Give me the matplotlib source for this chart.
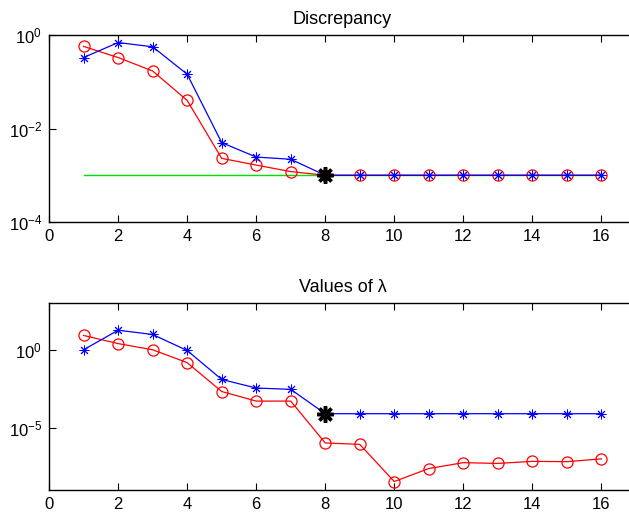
import matplotlib.pyplot as plt
import numpy as np

plt.rcParams['font.family'] = ['Liberation Sans', 'DejaVu Sans']
plt.rcParams['mathtext.fontset'] = 'custom'
plt.rcParams['mathtext.rm'] = 'Liberation Sans'
plt.rcParams['mathtext.it'] = 'Liberation Sans:italic'

# 反復回数
k = np.arange(1, 17)

# 上段: 残差ノルム
disc_star = [0.33, 0.69, 0.56, 0.145, 5.0e-3, 2.45e-3, 2.2e-3, 1e-3,
             1e-3, 1e-3, 1e-3, 1e-3, 1e-3, 1e-3, 1e-3, 1e-3]
disc_circ = [0.57, 0.33, 0.17, 0.04, 2.3e-3, 1.65e-3, 1.2e-3, 1e-3,
             1e-3, 1e-3, 1e-3, 1e-3, 1e-3, 1e-3, 1e-3, 1e-3]
noise_level = 1e-3

# 下段: 正則化パラメータ
lam_star = [1.0, 18, 9.6, 0.9, 0.0125, 3.5e-3, 2.9e-3, 7.9e-5,
            7.9e-5, 7.9e-5, 7.9e-5, 7.9e-5, 7.9e-5, 7.9e-5, 7.9e-5, 7.9e-5]
lam_circ = [8.3, 2.5, 1.0, 0.15, 2.1e-3, 5.1e-4, 5.1e-4, 1.05e-6,
            8.5e-7, 3.5e-9, 2.4e-8, 5.7e-8, 5.1e-8, 6.9e-8, 6.6e-8, 1.0e-7]

# 停止した反復
k_stop = 8

asterisk = (8, 2, 0)

fig = plt.figure(figsize=(6.29, 5.18), dpi=100)
ax1 = fig.add_axes([0.078, 0.5714, 0.933, 0.361])
ax2 = fig.add_axes([0.078, 0.054, 0.933, 0.361])


def style_axis(ax, yticks, ylim):
    ax.set_yscale('log')
    ax.set_xlim(0, 17)
    ax.set_ylim(ylim)
    ax.set_xticks(range(0, 17, 2))
    ax.set_yticks(yticks)
    ax.minorticks_off()
    ax.tick_params(direction='in', top=True, right=False, labelsize=12, length=5, width=0.8, pad=5)
    ax.spines['right'].set_visible(False)
    for s in ax.spines.values():
        s.set_linewidth(1.0)


# 上段
ax1.plot(k, [noise_level] * len(k), color='#00e000', lw=1.0)
ax1.plot(k, disc_circ, color='red', lw=0.9, marker='o', ms=8, mfc='none', mew=0.9)
ax1.plot(k, disc_star, color='blue', lw=0.9, marker=asterisk, ms=7, mew=0.7)
ax1.plot(k_stop, disc_star[k_stop - 1], color='black', marker=asterisk, ms=12, mew=2.5, ls='none')
style_axis(ax1, [1e-4, 1e-2, 1e0], (1e-4, 1e0))
ax1.set_title('Discrepancy', fontsize=13, pad=8)

# 下段
ax2.plot(k, lam_circ, color='red', lw=0.9, marker='o', ms=8, mfc='none', mew=0.9)
ax2.plot(k, lam_star, color='blue', lw=0.9, marker=asterisk, ms=7, mew=0.7)
ax2.plot(k_stop, lam_star[k_stop - 1], color='black', marker=asterisk, ms=12, mew=2.5, ls='none')
style_axis(ax2, [1e-5, 1e0], (1e-9, 1e3))
ax2.set_title('Values of λ', fontsize=13, pad=8)

plt.savefig('out.png', dpi=100)
